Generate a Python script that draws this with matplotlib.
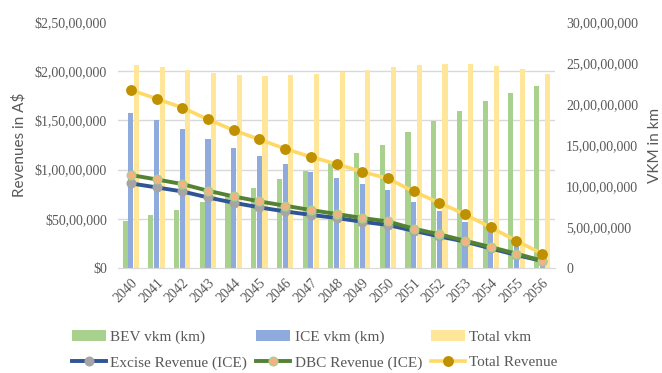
import matplotlib.pyplot as plt
import numpy as np

# vehicle km and revenue projections, 2040-2056
years = [str(y) for y in range(2040, 2057)]

# vkm in millions of km
bev_vkm = [57.3, 64.6, 71, 80, 90, 98, 108, 118.3, 129.4, 139.8, 150.4, 166.2, 179.6, 191.8, 203.2, 213.4, 222]
ice_vkm = [188.5, 180, 170, 157.7, 146, 136.6, 126.4, 117.4, 110, 102.4, 94.6, 80.8, 69, 56.5, 43.4, 29.6, 15]
total_vkm = [247, 245, 241.8, 238, 235.7, 234.5, 235, 237, 239.4, 242, 245.5, 247.5, 248.8, 248.3, 246.3, 242.2, 237]

# revenues in millions of A$
excise_rev = [8.6, 8.19, 7.78, 7.17, 6.63, 6.16, 5.75, 5.4, 5.08, 4.7, 4.37, 3.78, 3.21, 2.68, 1.99, 1.32, 0.71]
dbc_rev = [9.45, 9.0, 8.53, 7.85, 7.27, 6.77, 6.33, 5.89, 5.49, 5.08, 4.73, 4.0, 3.42, 2.77, 2.13, 1.45, 0.74]
total_rev = [18.1, 17.2, 16.3, 15.1, 14.0, 13.07, 12.12, 11.3, 10.57, 9.78, 9.1, 7.78, 6.63, 5.45, 4.12, 2.77, 1.45]

M = 1e6
grey = "#595959"
serif = "Liberation Serif"


def indian(n):
    # 25000000 -> 2,50,00,000
    s = str(int(round(n)))
    if len(s) <= 3:
        return s
    rest, groups = s[:-3], [s[-3:]]
    while len(rest) > 2:
        groups.insert(0, rest[-2:])
        rest = rest[:-2]
    if rest:
        groups.insert(0, rest)
    return ",".join(groups)


fig = plt.figure(figsize=(6.62, 3.73), dpi=100)
ax = fig.add_axes([118 / 662, 1 - 268 / 373, 437 / 662, 246 / 373])
ax2 = ax.twinx()

x = np.arange(len(years))
w = 0.2

# bars on the vkm axis (drawn underneath)
b1 = ax2.bar(x - 0.22, np.array(bev_vkm) * M, w, color="#A9D18E", label="BEV vkm (km)", zorder=2)
b2 = ax2.bar(x, np.array(ice_vkm) * M, w, color="#8FAADC", label="ICE vkm (km)", zorder=2)
b3 = ax2.bar(x + 0.22, np.array(total_vkm) * M, w, color="#FFE699", label="Total vkm", zorder=2)
ax2.set_ylim(0, 300e6)
ax2.set_yticks(np.arange(0, 300e6 + 1, 50e6))
ax2.set_yticklabels([indian(v) for v in np.arange(0, 300e6 + 1, 50e6)])
# gridlines follow the revenue ticks
ax2.set_yticks(np.arange(0, 300e6 + 1, 60e6), minor=True)
ax2.grid(which="minor", axis="y", color="#D9D9D9", lw=1, zorder=0)
ax2.tick_params(axis="y", which="both", length=0, pad=8, labelsize=10, labelcolor=grey)

# revenue lines on top
ax.set_zorder(ax2.get_zorder() + 1)
ax.patch.set_visible(False)
l1, = ax.plot(x, np.array(excise_rev) * M, color="#2F5597", lw=2.8, marker="o", ms=6.2,
              mfc="#A5A5A5", mec="#A5A5A5", label="Excise Revenue (ICE)")
l2, = ax.plot(x, np.array(dbc_rev) * M, color="#548235", lw=2.8, marker="o", ms=6.2,
              mfc="#F4B183", mec="#A9D18E", mew=1, label="DBC Revenue (ICE)")
l3, = ax.plot(x, np.array(total_rev) * M, color="#FFD966", lw=2.6, marker="o", ms=6.8,
              mfc="#BF9000", mec="#BF9000", label="Total Revenue")
ax.set_ylim(0, 25e6)
ax.set_yticks(np.arange(0, 25e6 + 1, 5e6))
ax.set_yticklabels(["$" + indian(v) for v in np.arange(0, 25e6 + 1, 5e6)])
ax.tick_params(axis="y", length=0, pad=8, labelsize=10, labelcolor=grey)

ax.set_xlim(-0.5, len(years) - 0.5)
ax.set_xticks(x)
ax.set_xticklabels(years, rotation=45, ha="right", rotation_mode="anchor")
ax.tick_params(axis="x", length=0, pad=6, labelsize=10, labelcolor=grey)

# axis titles
fig.text(19 / 662, 1 - 145 / 373, "Revenues in A$", rotation=90, ha="center", va="center",
         fontsize=11, color=grey, family="Lato")
fig.text(655 / 662, 1 - 145 / 373, "VKM in km", rotation=90, ha="center", va="center",
         fontsize=11, color=grey, family="Lato")

for a in (ax, ax2):
    for side in ("left", "right", "top"):
        a.spines[side].set_visible(False)
    a.spines["bottom"].set_color("#D9D9D9")
for lbl in ax.get_xticklabels() + ax.get_yticklabels() + ax2.get_yticklabels():
    lbl.set_family(serif)

handles = [b1, l1, b2, l2, b3, l3]
fig.legend(handles=handles, labels=[h.get_label() for h in handles], ncol=3,
           loc="center", bbox_to_anchor=(315 / 662, 1 - 350 / 373), frameon=False,
           prop={"family": serif, "size": 11}, labelcolor=grey, handlelength=2.2,
           handletextpad=0.3, columnspacing=0.6, borderaxespad=0, labelspacing=0.75)

fig.savefig("out.png", dpi=100)
